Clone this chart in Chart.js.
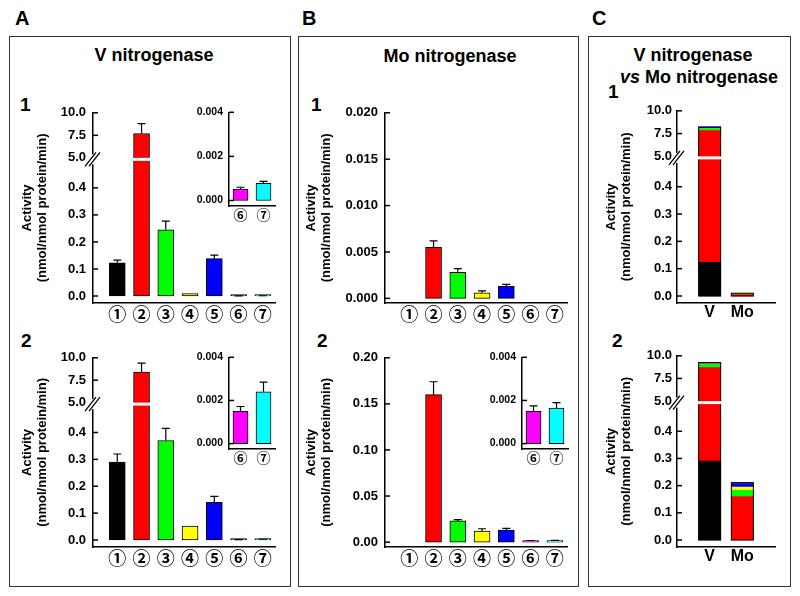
<!DOCTYPE html>
<html>
<head>
<meta charset="utf-8">
<script src="https://cdn.jsdelivr.net/npm/chart.js@4.4.1/dist/chart.umd.min.js"></script>
<style>
  body { margin: 0; background: #fff; }
  #fig { position: relative; width: 800px; height: 596px; overflow: hidden;
         font-family: "Liberation Sans", Arial, sans-serif; font-weight: bold; color: #000; }
  .box { position: absolute; border: 1.5px solid #333; box-sizing: border-box; }
  .txt { position: absolute; line-height: 1; white-space: nowrap; }
  .ttl { position: absolute; font-size: 18px; line-height: 1; text-align: center; white-space: nowrap; }
  canvas { position: absolute; }
</style>
</head>
<body>
<div id="fig">
  <div class="box" style="left:9px;top:36px;width:282px;height:551px"></div>
  <div class="box" style="left:298px;top:36px;width:281px;height:551px"></div>
  <div class="box" style="left:588px;top:36px;width:203px;height:551px"></div>

  <div class="txt" style="left:15px;top:8px;font-size:20px">A</div>
  <div class="txt" style="left:302px;top:8px;font-size:20px">B</div>
  <div class="txt" style="left:592px;top:8px;font-size:20px">C</div>

  <div class="ttl" style="left:54px;top:46px;width:200px">V nitrogenase</div>
  <div class="ttl" style="left:350px;top:47px;width:200px">Mo nitrogenase</div>
  <div class="ttl" style="left:593px;top:46px;width:200px">V nitrogenase</div>
  <div class="ttl" style="left:599px;top:68px;width:200px"><i>vs</i> Mo nitrogenase</div>

  <div class="txt" style="left:20px;top:95px;font-size:19px">1</div>
  <div class="txt" style="left:21px;top:331px;font-size:19px">2</div>
  <div class="txt" style="left:311px;top:95px;font-size:19px">1</div>
  <div class="txt" style="left:317px;top:331px;font-size:19px">2</div>
  <div class="txt" style="left:608px;top:82px;font-size:19px">1</div>
  <div class="txt" style="left:612px;top:331px;font-size:19px">2</div>
</div>

<script>
// categories and colours
const circled = ['①', '②', '③', '④', '⑤', '⑥', '⑦'];
const barColors = ['#000000', '#ff0000', '#00ff00', '#ffff00', '#0000ff', '#ff00ff', '#00ffff'];
const compareLabels = ['V', 'Mo'];

// V nitrogenase, rows 1 and 2
const vActivity1 = [0.123, 7.7, 0.245, 0.009, 0.138, 0.00052, 0.00078];
const vError1    = [0.010, 1.1, 0.032, 0,     0.013, 0.00008, 0.00009];
const vActivity2 = [0.29, 8.4, 0.37, 0.052, 0.14, 0.0015, 0.0024];
const vError2    = [0.03, 1.0, 0.045, 0,    0.022, 0.00022, 0.00045];

// Mo nitrogenase, rows 1 and 2 (null = nothing detected)
const moActivity1 = [null, 0.0055, 0.0028, 0.0006, 0.0013, null, null];
const moError1    = [0,    0.0007, 0.0004, 0.0002, 0.0002, 0,    0];
const moActivity2 = [null, 0.16,  0.023,  0.012,  0.013, 0.0015,  0.00165];
const moError2    = [0,    0.014, 0.0015, 0.0025, 0.002, 0.00025, 0.00025];

// tick labels
const brokenTicks = [0, 0.1, 0.2, 0.3, 0.4, 5, 7.5, 10];
const moTicks1 = [0, 0.005, 0.010, 0.015, 0.020];
const moTicks2 = [0, 0.05, 0.10, 0.15, 0.20];
const insetTicks = [0, 0.002, 0.004];

const FONT = '"Liberation Sans", Arial, sans-serif';
Chart.defaults.font.family = FONT;
Chart.defaults.font.weight = 'bold';
Chart.defaults.color = '#000';

// linear axis with a gap between lowMax and highMin
class BrokenScale extends Chart.LinearScale {
  static id = 'broken';
  static defaults = {};
  getPixelForValue(v) {
    const b = this.options.brk;
    const base = this.bottom - b.pad;
    const h = base - this.top - b.gap;
    const lowH = h * b.frac;
    if (v <= b.lowMax) return base - v / b.lowMax * lowH;
    if (v >= b.highMin) return this.top + (this.max - v) / (this.max - b.highMin) * (h - lowH);
    return base - lowH - b.gap * (v - b.lowMax) / (b.highMin - b.lowMax);
  }
  getValueForPixel(p) {
    const b = this.options.brk;
    const base = this.bottom - b.pad;
    const h = base - this.top - b.gap;
    const lowH = h * b.frac;
    if (p >= base - lowH) return (base - p) / lowH * b.lowMax;
    return this.max - (p - this.top) / (h - lowH) * (this.max - b.highMin);
  }
}
Chart.register(BrokenScale);
const BRK = { pad: 7, gap: 3, frac: 0.75, lowMax: 0.5, highMin: 5 };

const errorBars = {
  id: 'errorBars',
  afterDatasetsDraw(chart) {
    const ys = chart.scales.y, ctx = chart.ctx;
    ctx.save();
    ctx.strokeStyle = '#000';
    ctx.lineWidth = 1.2;
    chart.data.datasets.forEach((ds, d) => {
      if (!ds.errors) return;
      chart.getDatasetMeta(d).data.forEach((el, i) => {
        const v = ds.data[i].y, e = ds.errors[i];
        if (v == null || !e) return;
        const y0 = ys.getPixelForValue(v), y1 = ys.getPixelForValue(v + e);
        ctx.beginPath();
        ctx.moveTo(el.x, y0); ctx.lineTo(el.x, y1);
        ctx.moveTo(el.x - 4, y1); ctx.lineTo(el.x + 4, y1);
        ctx.stroke();
      });
    });
    ctx.restore();
  }
};

const stackOutline = {
  id: 'stackOutline',
  afterDatasetsDraw(chart) {
    const ctx = chart.ctx;
    const n = chart.data.datasets[0].data.length;
    ctx.save();
    ctx.strokeStyle = '#000';
    ctx.lineWidth = 1;
    for (let i = 0; i < n; i++) {
      let top = Infinity, base = -Infinity, x = 0, w = 0;
      chart.data.datasets.forEach((ds, d) => {
        if (ds.data[i].y == null) return;
        const el = chart.getDatasetMeta(d).data[i];
        top = Math.min(top, el.y); base = Math.max(base, el.base); x = el.x; w = el.width;
      });
      if (top < base) ctx.strokeRect(x - w / 2, top, w, base - top);
    }
    ctx.restore();
  }
};

const breakMark = {
  id: 'breakMark',
  afterDatasetsDraw(chart) {
    const s = chart.scales.y;
    if (s.type !== 'broken') return;
    const a = chart.chartArea, ctx = chart.ctx, b = s.options.brk;
    const yHi = s.getPixelForValue(b.highMin), yLo = s.getPixelForValue(b.lowMax);
    const mid = (yHi + yLo) / 2;
    ctx.save();
    ctx.fillStyle = '#fff';
    ctx.fillRect(a.left + 1, yHi, a.right - a.left, yLo - yHi);
    ctx.fillRect(a.left - 3, mid - 5, 6, 10);
    ctx.strokeStyle = '#000';
    ctx.lineWidth = 1.3;
    [-2, 2].forEach(o => {
      ctx.beginPath();
      ctx.moveTo(a.left - 6 + o, mid + 7);
      ctx.lineTo(a.left + 5 + o, mid - 7);
      ctx.stroke();
    });
    ctx.restore();
  }
};

const inwardTicks = {
  id: 'inwardTicks',
  afterDraw(chart) {
    const s = chart.scales.y, ctx = chart.ctx, b = s.options.brk;
    ctx.save();
    ctx.strokeStyle = '#000';
    ctx.lineWidth = 1.5;
    s.ticks.forEach(t => {
      if (s.type === 'broken' && t.value === b.highMin) return;
      const y = s.getPixelForValue(t.value);
      ctx.beginPath(); ctx.moveTo(s.right, y); ctx.lineTo(s.right + 5, y); ctx.stroke();
    });
    ctx.restore();
  }
};

const fig = document.getElementById('fig');

function makeChart(geo, datasets, xo, yo, plugins) {
  const cv = document.createElement('canvas');
  const ctop = geo.top - geo.padTop;
  cv.width = geo.right + 6 - geo.left;
  cv.height = geo.bottom + geo.labelH - ctop;
  cv.style.left = geo.left + 'px';
  cv.style.top = ctop + 'px';
  fig.appendChild(cv);
  return new Chart(cv, {
    type: 'bar',
    data: { datasets },
    options: {
      responsive: false, animation: false, events: [],
      layout: { padding: { top: geo.padTop, right: 6, left: 0, bottom: 0 } },
      plugins: { legend: { display: false }, tooltip: { enabled: false } },
      scales: {
        x: {
          type: 'linear', min: xo.min, max: xo.max, stacked: !!xo.stacked, offset: false,
          grid: { display: false, drawTicks: false, offset: false },
          border: { display: true, color: '#000', width: 1.5 },
          afterBuildTicks: s => { s.ticks = xo.labels.map((_, i) => ({ value: xo.first + i })); },
          afterFit: s => { s.height = geo.labelH; },
          ticks: {
            autoSkip: false, maxRotation: 0, padding: xo.padding,
            font: xo.font, color: '#000',
            callback: (v, i) => xo.labels[i]
          }
        },
        y: {
          type: yo.type, min: yo.min, max: yo.max, stacked: !!yo.stacked, brk: BRK,
          grid: { display: false, drawTicks: false },
          border: { display: true, color: '#000', width: 1.5 },
          afterBuildTicks: s => { s.ticks = yo.ticks.map(v => ({ value: v })); },
          afterFit: s => { s.width = geo.axisX - geo.left; },
          ticks: {
            autoSkip: false, padding: yo.padding,
            font: { size: yo.size, weight: 'bold' }, color: '#000',
            callback: v => v.toFixed(yo.dec)
          },
          title: {
            display: !!yo.title,
            text: ['Activity', '(nmol/nmol protein/min)'],
            font: { size: 13, weight: 'bold', lineHeight: 1.15 },
            padding: 0, color: '#000'
          }
        }
      }
    },
    plugins
  });
}

function barSet(vals, errs, first, thick) {
  return [{
    data: vals.map((v, i) => ({ x: first + i, y: v })),
    errors: errs,
    backgroundColor: barColors.slice(first - 1, first - 1 + vals.length),
    borderColor: '#000', borderWidth: 1, borderSkipped: false,
    barThickness: thick, minBarLength: 1.5
  }];
}

function stackSet(vVals, moVals) {
  return barColors.map((c, d) => ({
    data: [{ x: 1, y: vVals[d] }, { x: 2, y: moVals[d] }],
    backgroundColor: c, borderWidth: 0, barThickness: 22
  }));
}

const circFont = { family: '"Noto Sans CJK JP"', size: 18, weight: 'bold' };
const circSmall = { family: '"Noto Sans CJK JP"', size: 14, weight: 'bold' };
const mainX = { min: 0, max: 7.5, first: 1, labels: circled, font: circFont, padding: 0 };
const insetX = { min: 5.5, max: 7.5, first: 6, labels: circled.slice(5), font: circSmall, padding: 0 };
const cmpX = { min: 0, max: 3, first: 1, labels: compareLabels, stacked: true,
               font: { family: FONT, size: 16, weight: 'bold' }, padding: 0 };
const brokenY = { type: 'broken', min: 0, max: 10, ticks: brokenTicks, dec: 1, size: 13, padding: 7, title: true };
const insetY = { type: 'linear', min: -0.00025, max: 0.004, ticks: insetTicks, dec: 3, size: 10.5, padding: 6 };
const mainPlugins = [errorBars, breakMark, inwardTicks];

// panel A
makeChart({ left: 20, axisX: 93, top: 108, bottom: 303, right: 275, labelH: 22, padTop: 10 },
  barSet(vActivity1, vError1, 1, 16), mainX, brokenY, mainPlugins);
makeChart({ left: 189, axisX: 229, top: 108, bottom: 206, right: 275, labelH: 16, padTop: 8 },
  barSet(vActivity1.slice(5), vError1.slice(5), 6, 15), insetX, insetY, mainPlugins);
makeChart({ left: 20, axisX: 93, top: 353, bottom: 547, right: 275, labelH: 22, padTop: 10 },
  barSet(vActivity2, vError2, 1, 16), mainX, brokenY, mainPlugins);
makeChart({ left: 189, axisX: 229, top: 353, bottom: 449, right: 275, labelH: 16, padTop: 8 },
  barSet(vActivity2.slice(5), vError2.slice(5), 6, 15), insetX, insetY, mainPlugins);

// panel B
makeChart({ left: 304, axisX: 385, top: 108, bottom: 303, right: 567, labelH: 22, padTop: 10 },
  barSet(moActivity1, moError1, 1, 16), mainX,
  { type: 'linear', min: -0.0005, max: 0.02, ticks: moTicks1, dec: 3, size: 13, padding: 7, title: true }, mainPlugins);
makeChart({ left: 304, axisX: 385, top: 353, bottom: 547, right: 567, labelH: 22, padTop: 10 },
  barSet(moActivity2, moError2, 1, 16), mainX,
  { type: 'linear', min: -0.0053, max: 0.2, ticks: moTicks2, dec: 2, size: 13, padding: 7, title: true }, mainPlugins);
makeChart({ left: 482, axisX: 522, top: 353, bottom: 449, right: 568, labelH: 16, padTop: 8 },
  barSet(moActivity2.slice(5), moError2.slice(5), 6, 15), insetX, insetY, mainPlugins);

// panel C: stacked totals
const cmpY = Object.assign({}, brokenY, { stacked: true, padding: 5 });
makeChart({ left: 604, axisX: 677, top: 108, bottom: 303, right: 775, labelH: 22, padTop: 10 },
  stackSet(vActivity1, moActivity1), cmpX, cmpY, [stackOutline, breakMark, inwardTicks]);
makeChart({ left: 604, axisX: 677, top: 353, bottom: 547, right: 775, labelH: 22, padTop: 10 },
  stackSet(vActivity2, moActivity2), cmpX, cmpY, [stackOutline, breakMark, inwardTicks]);
</script>
</body>
</html>
